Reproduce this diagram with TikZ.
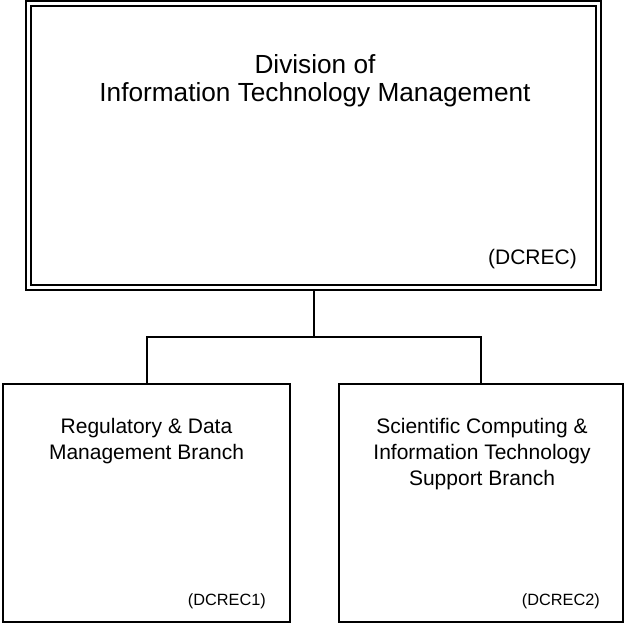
\documentclass[tikz,border=0pt]{standalone}
\usepackage{fontspec}
\setmainfont{Liberation Sans}
\begin{document}
\begin{tikzpicture}[x=1pt,y=-1pt,
  topbox/.style={draw, double, line width=2pt, double distance=3pt, inner sep=0pt, outer sep=3.5pt},
  branchbox/.style={draw, line width=2pt, inner sep=0pt, outer sep=1pt, minimum height=238pt},
  conn/.style={line width=2pt},
  bigtext/.style={align=center, inner sep=0pt, font=\fontsize{26.2}{28}\selectfont},
  midtext/.style={align=center, inner sep=0pt, font=\fontsize{21}{26}\selectfont},
  codetext/.style={inner sep=0pt, anchor=base east, font=\fontsize{21}{25}\selectfont},
  smallcode/.style={inner sep=0pt, anchor=base east, font=\fontsize{16.3}{19}\selectfont}]
\useasboundingbox (0,0) rectangle (625,626);
\node[topbox, minimum width=569.25pt, minimum height=283.85pt] (div) at (313.6,145.1) {};
\node[branchbox, minimum width=287pt] (rdm) at (146.5,503) {};
\node[branchbox, minimum width=284pt] (sci) at (481,503) {};
\coordinate (bus) at (313.6,337);
\draw[conn] (div.south) -- (bus);
\draw[conn] (rdm.north) |- (bus) -| (sci.north);
\node[bigtext] (title) at (315,80.5) {Division of\\Information Technology Management};
\node[codetext] (dc) at (577,264) {(DCREC)};
\node[midtext] (rdmt) at (146.5,441) {Regulatory \& Data\\Management Branch};
\node[midtext] (scit) at (482,454.5) {Scientific Computing \&\\Information Technology\\Support Branch};
\node[smallcode] (dc1) at (266,605) {(DCREC1)};
\node[smallcode] (dc2) at (600,605) {(DCREC2)};
\end{tikzpicture}
\end{document}
